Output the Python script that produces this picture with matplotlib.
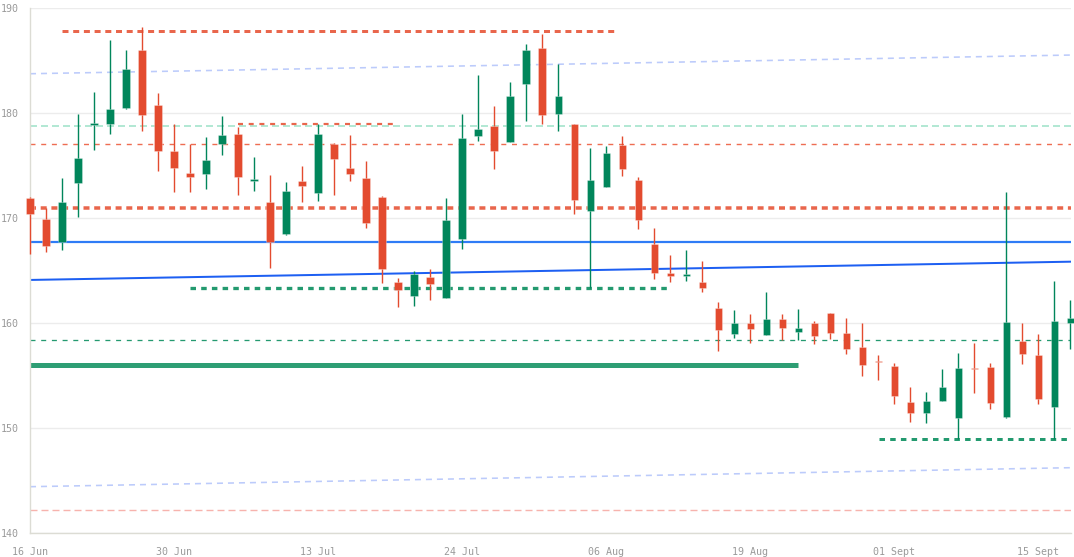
import matplotlib
matplotlib.use("Agg")
import matplotlib.pyplot as plt
import numpy as np

plt.rcParams['lines.scale_dashes'] = False

# ---- data ----
opens = [171.93, 169.94, 167.69, 173.30, 178.90, 178.98, 180.51, 186.03, 180.73, 176.41,
         174.25, 174.22, 177.08, 178.03, 173.55, 171.52, 168.44, 173.52, 172.35, 177.02,
         174.73, 173.78, 172.03, 163.90, 162.57, 164.41, 162.41, 168.00, 177.81, 178.76,
         177.24, 182.73, 186.16, 179.88, 178.95, 170.63, 172.98, 176.92, 173.59, 167.52,
         164.73, 164.48, 163.90, 161.46, 158.98, 159.97, 158.86, 160.35, 159.11, 159.97,
         160.92, 159.05, 157.68, 156.41, 155.94, 152.45, 151.43, 152.57, 150.98, 155.69,
         155.84, 151.08, 158.32, 156.95, 152.03, 159.97]
highs = [172.00, 170.92, 173.78, 179.87, 181.97, 186.95, 185.97, 188.16, 181.87, 178.98,
         177.05, 177.71, 179.71, 178.70, 175.84, 174.13, 173.43, 174.95, 178.92, 177.10,
         177.94, 175.43, 172.10, 164.32, 164.95, 165.14, 171.87, 179.94, 183.62, 180.63,
         182.95, 186.54, 187.49, 184.70, 179.00, 176.70, 176.89, 177.78, 173.94, 169.02,
         166.44, 166.95, 165.94, 161.97, 161.24, 160.86, 162.95, 160.86, 161.33, 160.22,
         161.00, 160.44, 159.97, 156.92, 156.16, 153.87, 153.46, 155.59, 157.11, 158.06,
         156.16, 172.45, 159.97, 158.95, 164.00, 162.19]
lows = [166.57, 166.76, 166.95, 170.06, 176.51, 177.97, 180.35, 178.25, 174.48, 172.48,
        172.48, 172.73, 175.97, 172.19, 172.54, 165.24, 168.40, 171.50, 171.65, 172.19,
        173.49, 169.02, 163.78, 161.56, 161.62, 162.19, 162.40, 167.05, 177.37, 174.63,
        177.20, 179.27, 178.95, 178.29, 170.35, 163.30, 172.95, 174.00, 168.95, 164.16,
        163.94, 164.03, 162.98, 157.36, 158.57, 158.07, 158.85, 158.38, 158.38, 157.97,
        158.51, 157.08, 154.98, 154.54, 152.31, 150.54, 150.44, 152.55, 148.95, 153.36,
        151.78, 151.00, 156.10, 152.26, 148.95, 157.50]
closes = [170.38, 167.36, 171.56, 175.75, 179.05, 180.38, 184.19, 179.81, 176.41, 174.73,
          173.88, 175.55, 177.90, 173.88, 173.68, 167.74, 172.60, 173.08, 177.97, 175.62,
          174.22, 169.56, 165.11, 163.14, 164.67, 163.68, 169.81, 177.59, 178.44, 176.38,
          181.62, 185.97, 179.81, 181.62, 171.71, 173.59, 176.16, 174.63, 169.81, 164.79,
          164.51, 164.70, 163.37, 159.36, 159.97, 159.46, 160.35, 159.56, 159.49, 158.73,
          159.08, 157.52, 155.97, 156.26, 153.05, 151.43, 152.54, 153.94, 155.69, 155.60,
          152.41, 160.13, 157.05, 152.73, 160.19, 160.45]

tick_labels = ["16 Jun", "30 Jun", "13 Jul", "24 Jul", "06 Aug", "19 Aug", "01 Sept", "15 Sept"]
y_ticks = [140, 150, 160, 170, 180, 190]

# level lines: value, start index, end index
resistance_top = (187.84, 2, 36.75)
resistance_mid = (178.95, 13, 22.8)
resistance_thick = 170.92
resistance_thin = 177.02
mint_level = 178.79
pivot_blue = 167.69
support_dotted = (163.30, 10, 40)
support_dashed = 158.35
support_solid = (156.0, 0, 48.0)
support_low = (148.95, 53.06, 65)
pink_level = 142.16
channel_mid = (164.10, 165.84)
channel_up = (183.74, 185.52)
channel_lo = (144.41, 146.22)

RED = "#e34b2f"
GREEN = "#01865b"

W, H = 1074, 557
fig = plt.figure(figsize=(W / 100, H / 100), dpi=100)
ax = fig.add_axes([30 / W, (H - 533) / H, (1071 - 30) / W, (533 - 8) / H])

n = len(opens)
x = np.arange(n)
xmax = 65.06
ax.set_xlim(0, xmax)
ax.set_ylim(140, 190)

# grid
for v in y_ticks:
    ax.axhline(v, color="#ececec", lw=1.0, zorder=0)

def px(p):
    return p * 0.72

# level lines
ax.hlines(pink_level, 0, xmax, color="#f7b3ad", lw=px(1.4), linestyle=(0, (px(7), px(4))), zorder=1)
ax.plot([0, xmax], channel_lo, color="#bccbfb", lw=px(1.6), linestyle=(0, (px(6), px(5))), zorder=1)
ax.plot([0, xmax], channel_up, color="#bccbfb", lw=px(1.6), linestyle=(0, (px(6), px(5))), zorder=1)
ax.hlines(mint_level, 0, xmax, color="#b3e8d4", lw=px(2.0), linestyle=(0, (px(7), px(4))), zorder=1)
ax.hlines(resistance_thin, 0, xmax, color="#ee6d52", lw=px(1.4), linestyle=(0, (px(5), px(5.7))), zorder=1)
ax.hlines(support_dashed, 0, xmax, color="#249a70", lw=px(1.3), linestyle=(0, (px(5), px(5.7))), zorder=1)
ax.hlines(resistance_thick, 0, xmax, color="#e9664c", lw=px(3.5), linestyle=(0, (px(6), px(4.7))), zorder=1)
ax.hlines(resistance_top[0], resistance_top[1], resistance_top[2], color="#e9664c", lw=px(3.0),
          linestyle=(0, (px(6), px(4.7))), zorder=1)
ax.hlines(resistance_mid[0], resistance_mid[1], resistance_mid[2], color="#e9664c", lw=px(2.2),
          linestyle=(0, (px(5), px(5.7))), zorder=1)
ax.hlines(support_dotted[0], support_dotted[1], support_dotted[2], color="#239a6f", lw=px(3.3),
          linestyle=(0, (px(5.5), px(5.2))), zorder=1)
ax.hlines(support_low[0], support_low[1], support_low[2], color="#239a6f", lw=px(3.0),
          linestyle=(0, (px(5.5), px(5.2))), zorder=1)
ax.hlines(support_solid[0], support_solid[1], support_solid[2], color="#2e9e74", lw=px(5.0), zorder=1)
ax.hlines(pivot_blue, 0, xmax, color="#2f7cf6", lw=px(2.2), zorder=1)
ax.plot([0, xmax], channel_mid, color="#1d5ff2", lw=px(2.0), zorder=1)

# candles
for i in range(n):
    o, h, l, c = opens[i], highs[i], lows[i], closes[i]
    col = GREEN if c >= o else RED
    ax.vlines(x[i], l, h, color=col, lw=px(1.4), zorder=3, clip_on=False)
    lo_b = min(o, c)
    hgt = max(abs(c - o), 0.15)
    ax.bar(x[i], hgt, bottom=lo_b, width=0.44, color=col, edgecolor="#ffffff80",
           linewidth=0.4, zorder=4, clip_on=False)

# axes styling
for s in ["top", "right"]:
    ax.spines[s].set_visible(False)
ax.spines["left"].set_color("#dcdcd4")
ax.spines["bottom"].set_color("#dcdcd4")
ax.spines["left"].set_linewidth(1.0)
ax.spines["bottom"].set_linewidth(1.0)

ax.set_yticks(y_ticks)
ax.set_yticklabels([str(v) for v in y_ticks])
ax.set_xticks(np.arange(0, 9 * len(tick_labels), 9))
ax.set_xticklabels(tick_labels)
ax.tick_params(axis="both", length=0, colors="#9a9a9a", labelsize=7.2)
ax.tick_params(axis="y", pad=8)
ax.tick_params(axis="x", pad=10)
for lab in ax.get_xticklabels() + ax.get_yticklabels():
    lab.set_fontfamily("DejaVu Sans Mono")

fig.savefig("out.png", dpi=100)
